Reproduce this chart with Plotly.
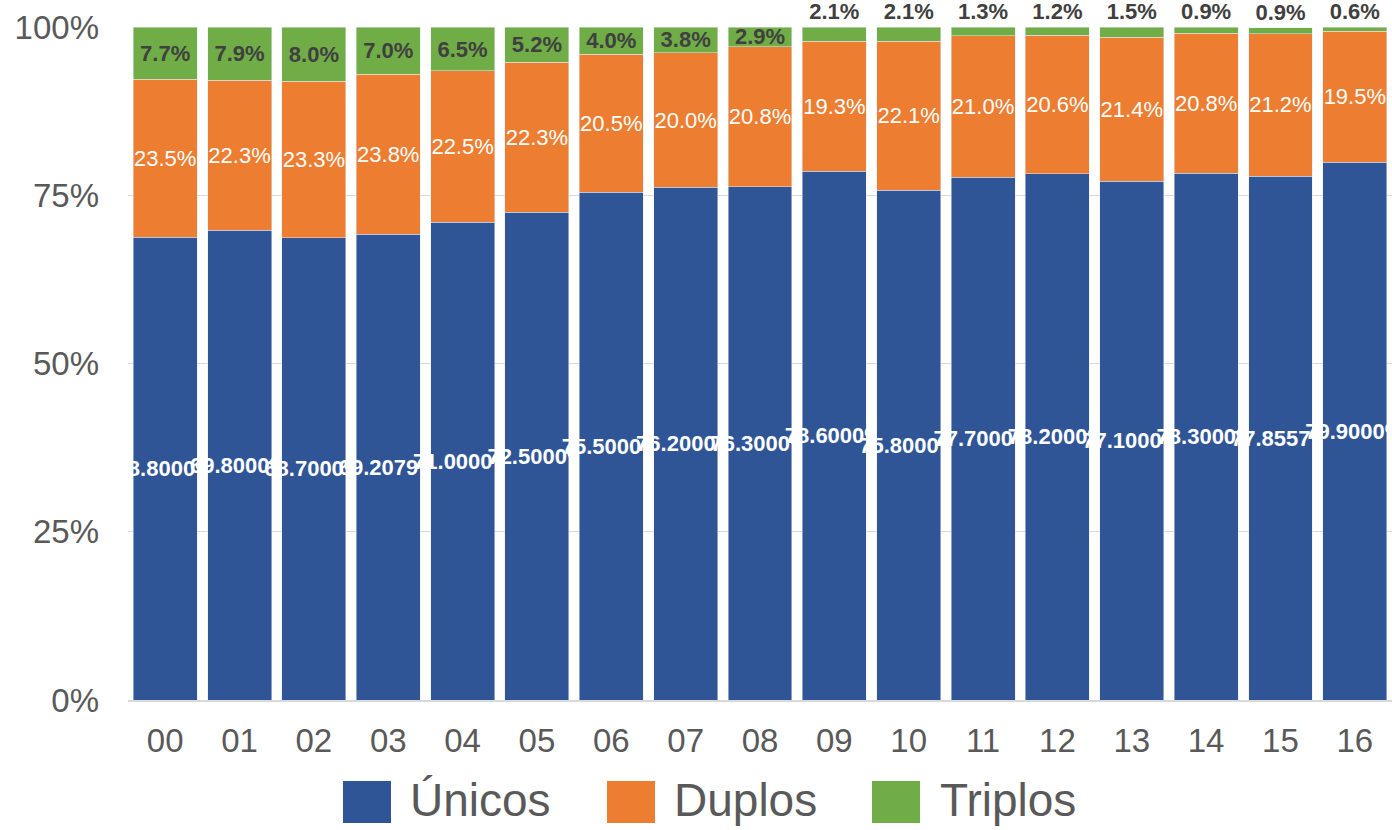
import plotly.graph_objects as go

categories = ["00", "01", "02", "03", "04", "05", "06", "07", "08",
              "09", "10", "11", "12", "13", "14", "15", "16"]
unicos = [68.8, 69.8, 68.7, 69.2079, 71.0, 72.5, 75.5, 76.2, 76.3,
          78.6, 75.8, 77.7, 78.2, 77.1, 78.3, 77.8557, 79.9]
duplos = [23.5, 22.3, 23.3, 23.8, 22.5, 22.3, 20.5, 20.0, 20.8,
          19.3, 22.1, 21.0, 20.6, 21.4, 20.8, 21.2, 19.5]
triplos = [7.7, 7.9, 8.0, 7.0, 6.5, 5.2, 4.0, 3.8, 2.9,
           2.1, 2.1, 1.3, 1.2, 1.5, 0.9, 0.9, 0.6]
series_names = ["Únicos", "Duplos", "Triplos"]
tick_vals = [0, 25, 50, 75, 100]
tick_text = ["0%", "25%", "50%", "75%", "100%"]

colors = ["#2F5597", "#ED7D31", "#70AD47"]
FONT = "Liberation Sans, Arial, sans-serif"
W, H = 1392, 830
ML, MR, MT, MB = 128, 0, 27, 130

fig = go.Figure()
fig.add_trace(go.Bar(
    x=categories, y=unicos, name=series_names[0], marker_color=colors[0],
    texttemplate="%{y:.4f}%", textposition="inside", insidetextanchor="middle",
    textangle=0, cliponaxis=False,
    textfont=dict(family=FONT, size=22, color="white", weight="bold"),
    showlegend=False))
fig.add_trace(go.Bar(
    x=categories, y=duplos, name=series_names[1], marker_color=colors[1],
    texttemplate="%{y:.1f}%", textposition="inside", insidetextanchor="middle",
    textangle=0, cliponaxis=False,
    textfont=dict(family=FONT, size=22, color="white"),
    showlegend=False))
trip_pos = ["inside" if v >= 2.5 else "outside" for v in triplos]
fig.add_trace(go.Bar(
    x=categories, y=triplos, name=series_names[2], marker_color=colors[2],
    texttemplate="%{y:.1f}%", textposition=trip_pos, insidetextanchor="middle",
    textangle=0, cliponaxis=False,
    textfont=dict(family=FONT, size=22, color="#404040", weight="bold"),
    showlegend=False))

fig.update_layout(
    width=W, height=H, barmode="stack", bargap=0.14,
    margin=dict(l=ML, r=MR, t=MT, b=MB, autoexpand=False),
    plot_bgcolor="white", paper_bgcolor="white",
    uniformtext=dict(minsize=22, mode="show"),
    font=dict(family=FONT, color="#595959"),
)
fig.update_yaxes(range=[0, 100.03], tickvals=tick_vals, ticktext=tick_text,
                 showgrid=True, gridcolor="#d9d9d9", gridwidth=1,
                 zeroline=False, showline=False, ticks="", automargin=False,
                 tickfont=dict(size=33, color="#595959"), ticklabelstandoff=28)
fig.update_xaxes(showline=True, linecolor="#d9d9d9", linewidth=2,
                 tickfont=dict(size=33, color="#595959"), ticks="",
                 automargin=False, ticklabelstandoff=10)

# custom legend with large swatches
pw, ph = W - ML - MR, H - MT - MB
def px2x(px):
    return (px - ML) / pw
def py2y(py):
    return (H - MB - py) / ph

sw_left = [343, 607, 872]
txt_left = [408, 672, 938]
for i, name in enumerate(series_names):
    fig.add_shape(type="rect", xref="paper", yref="paper",
                  x0=px2x(sw_left[i]), x1=px2x(sw_left[i] + 48),
                  y0=py2y(823), y1=py2y(781),
                  fillcolor=colors[i], line=dict(width=0))
    fig.add_annotation(xref="paper", yref="paper", x=px2x(txt_left[i]),
                       y=py2y(800), text=name, showarrow=False,
                       xanchor="left", yanchor="middle",
                       font=dict(family=FONT, size=46, color="#595959"))

fig.write_html("out.html", config={"displayModeBar": False},
               post_script="document.body.style.margin='0';"
                           "document.body.style.overflow='hidden';")
